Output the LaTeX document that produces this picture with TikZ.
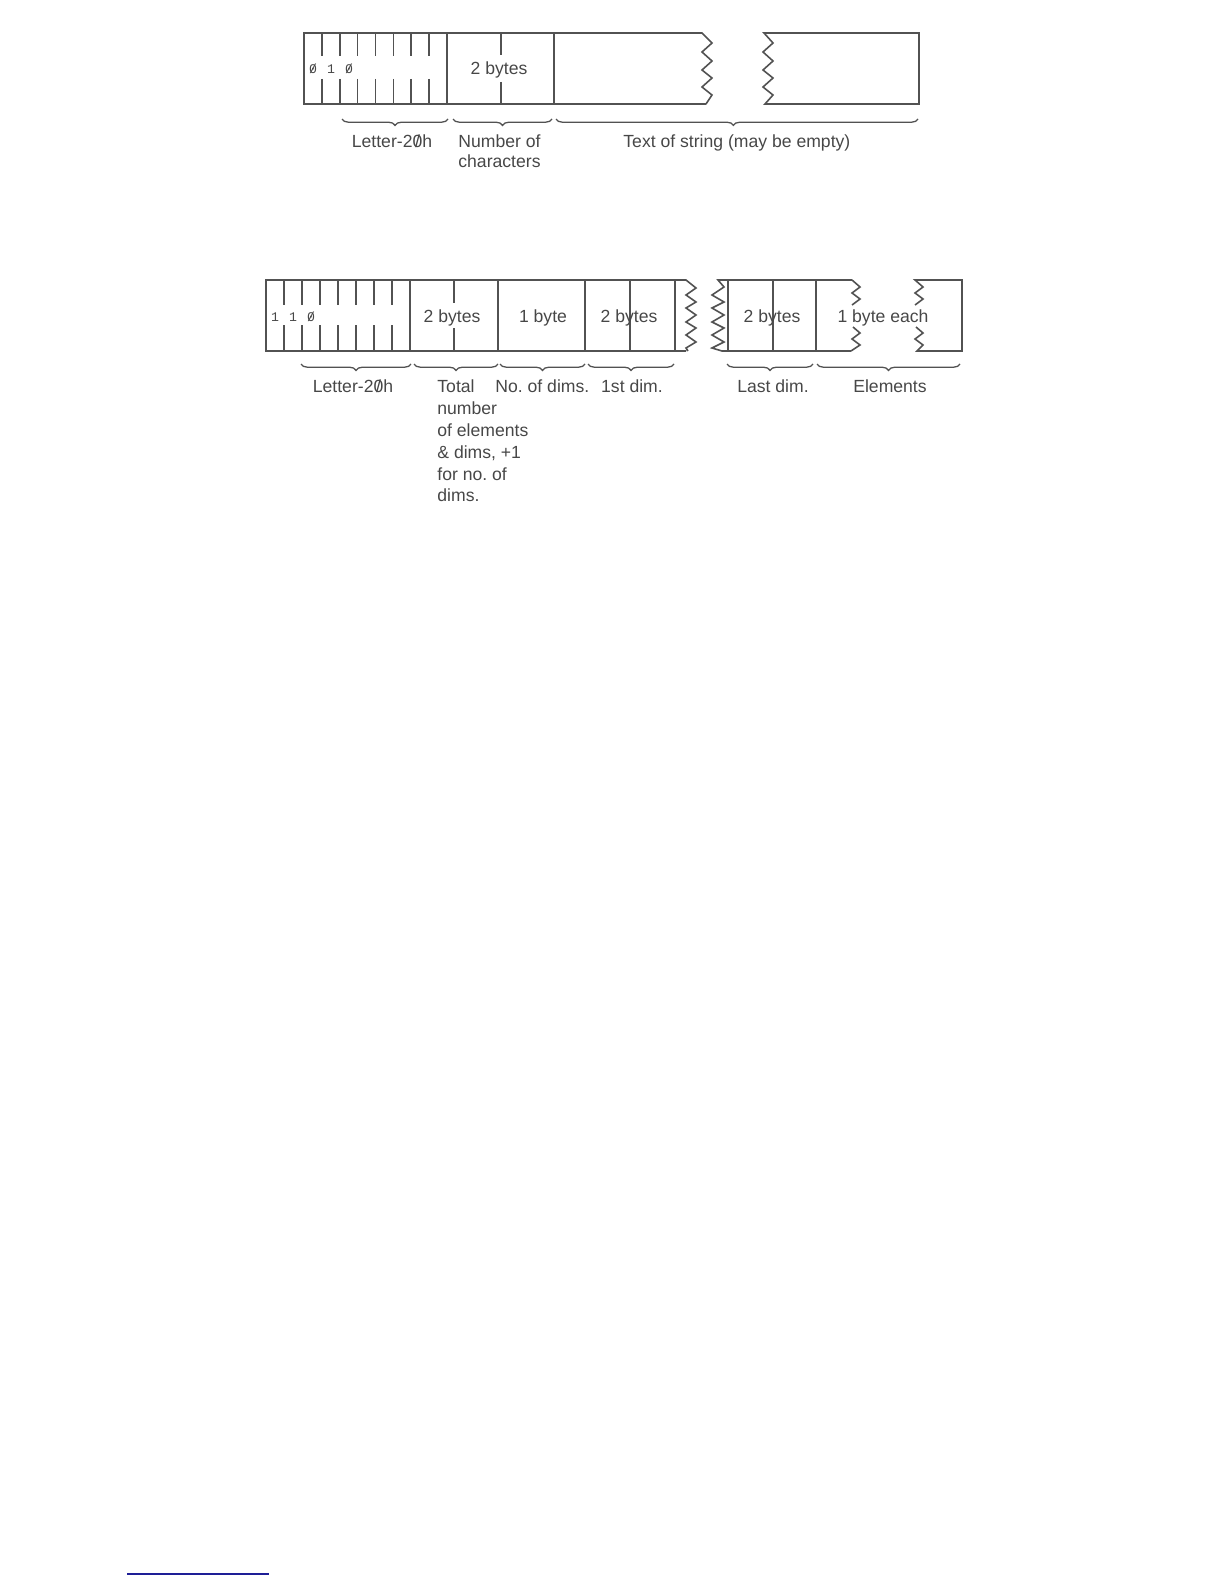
\documentclass[tikz,border=0pt]{standalone}
\usepackage{fontspec}
\setmainfont{Liberation Sans}
\newfontfamily\bitfont{Liberation Mono}
\usetikzlibrary{decorations.pathreplacing}
\newcommand{\szero}{\ooalign{0\cr\hidewidth/\hidewidth\cr}}
\definecolor{lineC}{gray}{0.32}
\definecolor{textC}{gray}{0.28}
\definecolor{ruleC}{RGB}{30,30,150}
\frenchspacing
\tikzset{
  frame/.style={draw=lineC, line width=0.8pt, line join=miter},
  tick/.style={draw=lineC, line width=0.8pt},
  brc/.style={draw=lineC, line width=0.65pt, decorate, decoration={brace, mirror, amplitude=3.2pt, aspect=#1}},
  brc/.default=0.5,
  lbl/.style={text=textC, font=\fontsize{8.8}{10.4}\selectfont, inner sep=0pt, anchor=base},
  lblw/.style={lbl, anchor=base west},
  bits/.style={text=textC, font=\bitfont\fontsize{6.6}{8}\selectfont, inner sep=0pt, anchor=base},
}
\begin{document}
\begin{tikzpicture}[x=0.5pt,y=-0.5pt]
\useasboundingbox (0,0) rectangle (1224,1584);

% ================= Diagram 1 (string) =================
\draw[frame] (706,104) -- (304,104) -- (304,33) -- (702,33)
  -- (712,43) -- (702,52) -- (712,61) -- (702,70) -- (712,78) -- (702,87) -- (712,95) -- (706,104);
\draw[frame] (764,33) -- (773,43) -- (763,52) -- (773,61) -- (763,70) -- (773,78) -- (763,87) -- (773,95) -- (765,104)
  -- (919,104) -- (919,33) -- cycle;
\draw[tick] (447,33) -- (447,104);
\draw[tick] (554,33) -- (554,104);
\draw[tick] (501,33) -- (501,55) (501,82) -- (501,104);
\foreach \i in {1,...,7}{
  \draw[tick] ({304+17.875*\i},33) -- ({304+17.875*\i},56) ({304+17.875*\i},79) -- ({304+17.875*\i},104);
}
\node[bits] (a0) at (313,74) {\szero};
\node[bits] (a1) at (331,74) {1};
\node[bits] (a2) at (349,74) {\szero};
\node[lbl] (aBytes) at (499,75) {2 bytes};

\draw[brc] (342,119) -- (448,119);
\draw[brc] (453,119) -- (552,119);
\draw[brc=0.49] (556,119) -- (918,119);
\node[lbl] (aLetter) at (392,148) {Letter-2\szero h};
\node[lblw] (aNum1) at (458,148) {Number of};
\node[lblw] (aNum2) at (458,168) {characters};
\node[lblw] (aText) at (623,148) {Text of string (may be empty)};

% ================= Diagram 2 (array) =================
\draw[frame] (686,351) -- (266,351) -- (266,280) -- (686,280)
  -- (696,288) -- (686,295) -- (696,302) -- (686,308) -- (696,315) -- (686,322)
  -- (696,328) -- (686,335) -- (696,342) -- (686,348) -- (688,351);
\draw[tick] (410,280) -- (410,351);
\draw[tick] (498,280) -- (498,351);
\draw[tick] (585,280) -- (585,351);
\draw[tick] (675,280) -- (675,351);
\draw[tick] (454,280) -- (454,303) (454,328) -- (454,351);
\draw[tick] (630,280) -- (630,351);
\foreach \i in {1,...,7}{
  \draw[tick] ({266+18*\i},280) -- ({266+18*\i},305) ({266+18*\i},325) -- ({266+18*\i},351);
}
\node[bits] (b0) at (275,321) {1};
\node[bits] (b1) at (293,321) {1};
\node[bits] (b2) at (311,321) {\szero};
\node[lbl] (bBytesA) at (452,322) {2 bytes};
\node[lbl] (bByte) at (543,322) {1 byte};
\node[lbl] (bBytesB) at (629,322) {2 bytes};

% second piece
\draw[frame] (852,280) -- (718,280)
  -- (724,287) -- (712,295) -- (724,302) -- (712,308) -- (724,315) -- (712,322)
  -- (724,328) -- (712,335) -- (724,342) -- (712,348) -- (722,351) -- (851,351);
\draw[tick] (728,280) -- (728,351);
\draw[tick] (773,280) -- (773,351);
\draw[tick] (816,280) -- (816,351);
\draw[frame] (852,280) -- (860,287) -- (852,293) -- (860,299) -- (852,305);
\draw[frame] (853,327) -- (860,333) -- (852,339) -- (860,345) -- (851,351);
\draw[frame] (915,305) -- (923,299) -- (915,293) -- (923,287) -- (915,280) -- (962,280) -- (962,351) -- (917,351)
  -- (923,345) -- (915,339) -- (923,333) -- (916,327);
\node[lbl] (bBytesC) at (772,322) {2 bytes};
\node[lbl] (bEach) at (883,322) {1 byte each};

\draw[brc] (301,364) -- (411,364);
\draw[brc] (414,364) -- (498,364);
\draw[brc] (500,364) -- (585,364);
\draw[brc] (588,364) -- (674,364);
\draw[brc] (727,364) -- (813,364);
\draw[brc] (817,364) -- (960,364);

\node[lbl] (bLetter) at (353,392) {Letter-2\szero h};
\node[lblw] (bT1) at (437,392) {Total};
\node[lblw] (bT2) at (437,414) {number};
\node[lblw] (bT3) at (437,436) {of elements};
\node[lblw] (bT4) at (437,458) {\& dims, +1};
\node[lblw] (bT5) at (437,480) {for no. of};
\node[lblw] (bT6) at (437,501) {dims.};
\node[lblw] (bDims) at (495,392) {No. of dims.};
\node[lbl] (bFirst) at (632,392) {1st dim.};
\node[lbl] (bLast) at (773,392) {Last dim.};
\node[lbl] (bElem) at (890,392) {Elements};

% footnote rule
\coordinate (r1) at (127,1574);
\coordinate (r2) at (269,1574);
\draw[draw=ruleC, line width=0.7pt] (r1) -- (r2);
\end{tikzpicture}
\end{document}
